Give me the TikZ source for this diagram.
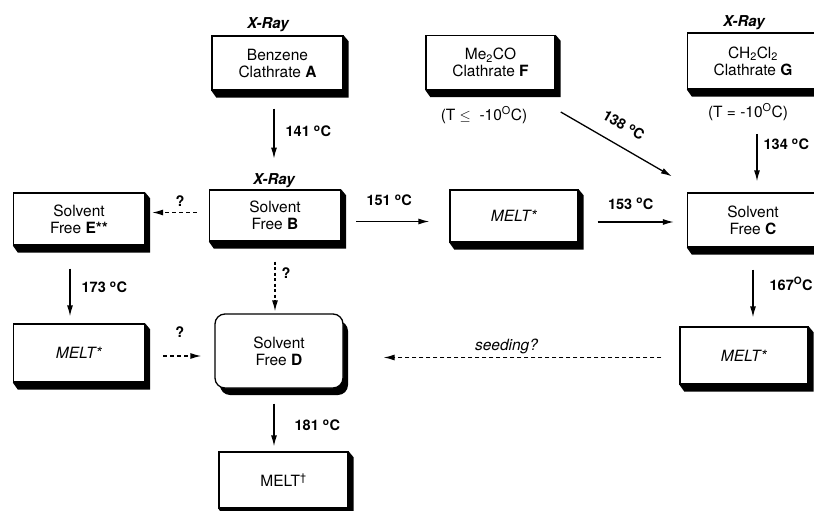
\documentclass[tikz,border=0pt]{standalone}
\usepackage{fontspec}
\setmainfont{TeX Gyre Heros}
\usetikzlibrary{arrows.meta, shadows}

\tikzset{
  slabbox/.style={draw, line width=1.3pt, fill=white, align=center,
    minimum width=131pt, minimum height=54pt, inner sep=1pt},
  tag/.style={font=\fontsize{15}{17}\selectfont\bfseries\itshape, inner sep=1pt},
  temp/.style={font=\fontsize{14.5}{17}\selectfont\bfseries, inner sep=1pt},
  flow/.style={line width=1.3pt, -{Latex[length=11pt,width=6pt]}},
  guess/.style={flow, dash pattern=on 4pt off 3pt},
}
% extruded black edge on the right and bottom of a box
\newcommand{\slab}[1]{%
  \fill[black] (#1.north east) -- ++(5,6) -- ([shift={(5pt,-7pt)}]#1.south east)
    -- ([shift={(5pt,-7pt)}]#1.south west) -- (#1.south west)
    -- (#1.south east) -- cycle;}

\begin{document}
\begin{tikzpicture}[x=1pt, y=-1pt, font=\fontsize{15.5}{17}\selectfont]
  \useasboundingbox (0,0) rectangle (814,511);
  % clathrates
  \node[tag] (xa) at (268,25) {X-Ray};
  \node[slabbox] (A) at (277.5,63) {Benzene\\Clathrate \textbf{A}};
  \node[slabbox, minimum width=129pt] (F) at (490.5,62.5) {Me\textsubscript{2}CO\\Clathrate \textbf{F}};
  \node (fc) at (484,115) {(T $\leq$\ \ -10\textsuperscript{O}C)};
  \node[tag] (xg) at (744,23) {X-Ray};
  \node[slabbox, minimum height=56pt] (G) at (753,61) {CH\textsubscript{2}Cl\textsubscript{2}\\Clathrate \textbf{G}};
  \node (gc) at (748,112) {(T = -10\textsuperscript{O}C)};
  % solvent free forms
  \node[tag] (xb) at (274,181) {X-Ray};
  \node[slabbox, minimum height=51pt] (B) at (275,215.5) {Solvent\\Free \textbf{B}};
  \node[slabbox, minimum height=52pt] (E) at (79,219) {Solvent\\Free \textbf{E**}};
  \node[slabbox, minimum width=128pt, minimum height=52pt] (Mmid) at (514,216) {\textit{MELT*}};
  \node[slabbox] (C) at (753,220) {Solvent\\Free \textbf{C}};
  \node[slabbox, minimum height=58pt] (Mleft) at (79,353) {\textit{MELT*}};
  \node[slabbox, minimum width=128pt, minimum height=74pt, rounded corners=10pt,
    general shadow={fill=black, shadow xshift=5pt, shadow yshift=-7pt}] (D) at (279,351) {Solvent\\Free \textbf{D}};
  \node[slabbox, minimum width=128pt, minimum height=57pt] (Mright) at (744,355.5) {\textit{MELT*}};
  \node[slabbox, minimum width=129pt, minimum height=56pt] (Mdag) at (283.5,480) {MELT\textsuperscript{\textdagger}};
  \foreach \nd in {A, F, G, B, E, Mmid, C, Mleft, Mright, Mdag}
    {\slab{\nd}}

  % transitions
  \draw[flow, shorten <=18pt, shorten >=14pt] (A.south -| xb) -- (xb.north)
    node[temp, midway, right=10pt] {141 \textsuperscript{o}C};
  \draw[guess, shorten <=12pt, shorten >=7pt] ([yshift=3pt]B.west) -- ([yshift=3pt]B.west -| E.east)
    node[temp, midway, above=4pt, xshift=3pt] {?};
  \draw[flow, shorten <=15pt, shorten >=20pt] ([yshift=-6pt]B.east) -- ([yshift=-6pt]B.east -| Mmid.west)
    node[temp, midway, above=14pt, xshift=-6pt] {151 \textsuperscript{o}C};
  \draw[flow, shorten <=19pt, shorten >=13pt] ([yshift=-6pt]Mmid.east) -- ([yshift=-6pt]Mmid.east -| C.west)
    node[temp, midway, above=11pt, xshift=-2pt] {153 \textsuperscript{o}C};
  \draw[flow] ([xshift=30pt,yshift=3pt]fc.east) -- ([xshift=-15pt,yshift=16pt]C.north west)
    node[temp, midway, sloped, above=13pt, xshift=-3pt] {138 \textsuperscript{o}C};
  \draw[flow, shorten <=10pt, shorten >=11pt] ([xshift=9pt]gc.south) -- ([xshift=9pt]gc.south |- C.north)
    node[temp, pos=0.3, right=5pt] {134 \textsuperscript{o}C};
  \draw[guess, dash pattern=on 3pt off 2.5pt, shorten <=20pt, shorten >=2pt] (B.south) -- (B.south |- D.north)
    node[temp, pos=0.44, right=5pt] {?};
  \draw[flow, shorten <=23pt, shorten >=7pt] ([xshift=-9pt]E.south) -- ([xshift=-9pt]E.south |- Mleft.north)
    node[temp, pos=0.54, right=10pt] {173 \textsuperscript{o}C};
  \draw[guess, shorten <=18pt, shorten >=13pt] ([yshift=-3pt]Mleft.east) -- ([yshift=-3pt]Mleft.east -| D.west)
    node[temp, midway, above=17pt] {?};
  \draw[guess, line width=1.1pt, shorten <=18pt, shorten >=40pt] ([yshift=-2pt]Mright.west) -- ([yshift=-2pt]Mright.west -| D.east)
    node[midway, above=0pt, xshift=-5pt, font=\fontsize{15.5}{17}\selectfont\itshape] {seeding?};
  \draw[flow, shorten <=22pt, shorten >=9pt] (C.south) -- (C.south |- Mright.north)
    node[temp, pos=0.46, right=15pt] {167\textsuperscript{O}C};
  \draw[flow, shorten <=15pt, shorten >=5pt] ([xshift=-5pt]D.south) -- ([xshift=-5pt]D.south |- Mdag.north)
    node[temp, pos=0.58, right=19pt] {181 \textsuperscript{o}C};
\end{tikzpicture}
\end{document}
